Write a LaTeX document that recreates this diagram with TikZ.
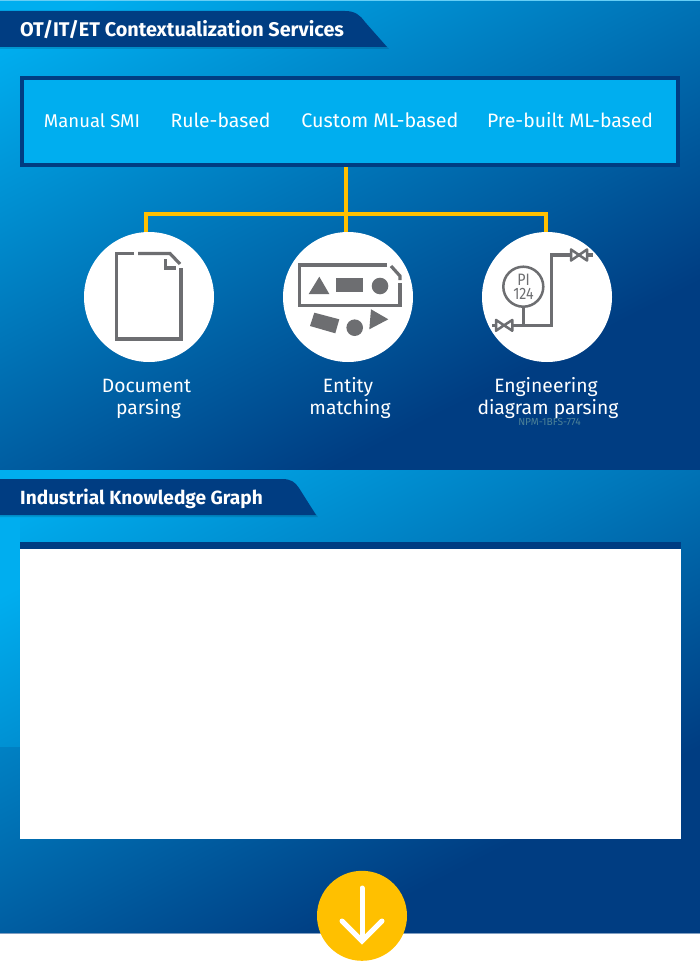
\documentclass[tikz,border=0pt]{standalone}
\usepackage{fontspec}
\setmainfont{Fira Sans}
\usetikzlibrary{calc}
\definecolor{navy}{HTML}{003D82}
\definecolor{cyanb}{HTML}{00AEEF}
\definecolor{gold}{HTML}{FFC000}
\definecolor{icon}{HTML}{6D6E71}
\pgfdeclarehorizontalshading{panelgrad}{100bp}{color(0bp)=(cyanb); color(33.7bp)=(cyanb); color(60bp)=(navy); color(100bp)=(navy)}
\newfontfamily\pifont[FakeStretch=0.86]{Fira Sans}
\tikzset{
  wire/.style={draw=gold,line width=4pt},
  disc/.style={circle,fill=white,minimum size=130pt,inner sep=0pt},
  iconline/.style={draw=icon,line width=3.2pt},
  iconthin/.style={draw=icon,line width=2.5pt},
  iconfill/.style={fill=icon},
  method/.style={text=white,font=\fontsize{19.4}{22}\selectfont,inner sep=0pt,anchor=base},
  caption/.style={text=white,font=\fontsize{19.3}{22}\selectfont,inner sep=0pt,anchor=base},
  bannertext/.style={text=white,inner sep=0pt,anchor=base west},
  bannershadow/.style={fill=black,opacity=0.12},
}
\begin{document}
\begin{tikzpicture}[x=1pt,y=-1pt]
\useasboundingbox (0,0) rectangle (700,974);
\fill[white] (0,0) rectangle (700,974);
% panels
\begin{scope}
\clip (0,0) rectangle (700,470);
\shade[shading=panelgrad,shading angle=-63] (-150,-265) rectangle (850,735);
\end{scope}
\begin{scope}
\clip (0,470) rectangle (700,933);
\shade[shading=panelgrad,shading angle=-63] (-150,201) rectangle (850,1201);
\end{scope}
\begin{scope}
\clip (0,517) rectangle (20,746);
\shade[shading=panelgrad,shading angle=-63] (-150,283) rectangle (850,1283);
\end{scope}
\fill[cyanb!60!white] (0,0) rectangle (700,1);
\fill[navy!50!white] (0,933) rectangle (700,934);
% banners
\fill[bannershadow] (0,13) -- (345,13) .. controls (355,13) and (361,17) .. (366,24) -- (389,49) -- (0,49) -- cycle;
\fill[navy] (0,11) -- (345,11) .. controls (355,11) and (360,15) .. (365,22) -- (387,47) -- (0,47) -- cycle;
\node[bannertext,font=\fontsize{19.8}{22}\selectfont\bfseries] (t1) at (20,37) {OT/IT/ET Contextualization Services};
\fill[bannershadow] (0,481) -- (282,481) .. controls (291,481) and (295,484) .. (299,490) -- (318,517) -- (0,517) -- cycle;
\fill[navy] (0,479) -- (282,479) .. controls (291,479) and (295,482) .. (299,488) -- (316,515) -- (0,515) -- cycle;
\node[bannertext,font=\fontsize{19.1}{22}\selectfont\bfseries] (t2) at (20,504.5) {Industrial Knowledge Graph};
% methods box
\node[draw=navy,line width=4.5pt,fill=cyanb,minimum width=656pt,minimum height=87pt,inner sep=0pt] (box) at (350,121.5) {};
\node[method,font=\fontsize{18.5}{22}\selectfont] (m1) at (92,127.5) {Manual SMI};
\node[method] (m2) at (220.5,127.5) {Rule-based};
\node[method,font=\fontsize{19.75}{22}\selectfont] (m3) at (380,127.5) {Custom ML-based};
\node[method] (m4) at (570,127.5) {Pre-built ML-based};
% discs
\node[disc] (d1) at (149,297) {};
\node[disc] (d2) at (348,297) {};
\node[disc] (d3) at (547,297) {};
% connectors
\coordinate (j) at (345.5,214);
\coordinate (jl) at (146,214);
\coordinate (jr) at (546,214);
\draw[wire] (box.south -| j) -- (j);
\draw[wire] (j) -- (j |- d2.north);
\draw[wire] (jl |- d1.north) -- (jl) -- (jr) -- (jr |- d3.north);
% document icon
\draw[iconline,miter limit=10] (134,253.5) -- (116.5,253.5) -- (116.5,339) -- (181,339) -- (181,268);
\draw[iconline] (138,253.5) -- (170,253.5) -- (180,264);
\draw[iconline] (165.5,259) -- (165.5,268) -- (176,268);
% entity icon
\draw[iconline] (387,265) -- (299.5,265) -- (299.5,305.5) -- (400,305.5) -- (400,283);
\draw[iconline] (391,266) -- (400,276) -- (400,280);
\fill[iconfill] (308.7,294) -- (319.3,276.7) -- (329.3,294) -- cycle;
\fill[iconfill] (336,278.3) rectangle (363.3,292.3);
\fill[iconfill] (380,286) circle[radius=8.3];
\fill[iconfill] (314.3,312.7) -- (339.3,319.3) -- (335.3,333.3) -- (310,326) -- cycle;
\fill[iconfill] (354.7,327.7) circle[radius=8.3];
\fill[iconfill] (371,309.3) -- (388.3,319.3) -- (369.3,329.3) -- cycle;
% engineering icon
\draw[iconline] (492.3,325.3) -- (551.7,325.3) -- (551.7,255) -- (593.3,255);
\draw[iconthin] (523.3,306.7) -- (523.3,325.3);
\draw[iconthin,fill=white] (523.3,286.7) circle[radius=20];
\draw[iconthin,fill=white,line join=round] (496,320) -- (504,325.3) -- (496,330.7) -- cycle (512.3,320) -- (504,325.3) -- (512.3,330.7) -- cycle;
\draw[iconthin,fill=white,line join=round] (571,249.5) -- (579,255) -- (571,260.5) -- cycle (587,249.5) -- (579,255) -- (587,260.5) -- cycle;
\node[text=icon,font=\fontsize{16.5}{13.5}\selectfont\pifont,align=center,inner sep=0pt] (pi) at (523.5,287) {PI\\124};
% captions
\node[caption] (c1a) at (146.5,392.5) {Document};
\node[caption] (c1b) at (148.5,414.5) {parsing};
\node[caption] (c2a) at (348,392.5) {Entity};
\node[caption] (c2b) at (350,414.5) {matching};
\node[caption] (c3a) at (546,392.5) {Engineering};
\node[caption] (c3b) at (548,414.5) {diagram parsing};
\node[text=icon!70!cyanb,font=\fontsize{10.2}{12}\selectfont,inner sep=0pt] (npm) at (549.5,421.5) {NPM-1BFS-774};
% knowledge graph box
\node[fill=white,minimum width=661pt,minimum height=297pt,inner sep=0pt] (kg) at (350.5,690.5) {};
\fill[navy] (kg.north west) rectangle ($(kg.north east)+(0,7)$);
% arrow
\node[circle,fill=gold,minimum size=90pt,inner sep=0pt] (go) at (362,915.8) {};
\draw[white,line width=5pt,line cap=round,line join=miter] (362,888) -- (362,940);
\draw[white,line width=5pt,line cap=round,line join=miter] (342,921) -- (362,941) -- (382,921);
\end{tikzpicture}
\end{document}
